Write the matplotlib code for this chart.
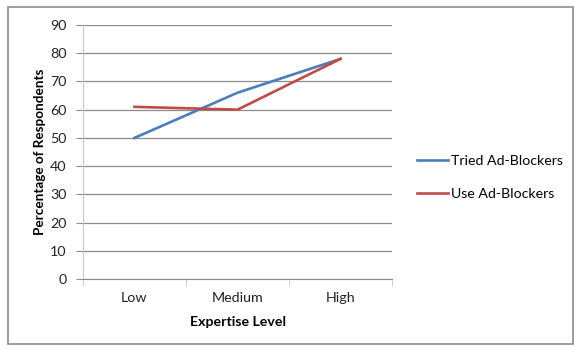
import matplotlib.pyplot as plt
from matplotlib.patches import Rectangle
from matplotlib.ticker import FixedLocator

plt.rcParams['font.family'] = ['Lato', 'DejaVu Sans']

levels = ['Low', 'Medium', 'High']
tried = [50, 66, 78]
use = [61, 60, 78]

fig = plt.figure(figsize=(5.74, 3.5), dpi=100)
# outer chart border, like the Excel chart area
fig.patches.append(Rectangle((8 / 574, 6 / 350), 565 / 574, 337 / 350,
                             transform=fig.transFigure, fill=False,
                             edgecolor='#8c8c8c', linewidth=1.2))

ax = fig.add_axes([83 / 574, 71 / 350, 309 / 574, 254 / 350])
x = list(range(len(levels)))
ax.plot(x, tried, color='#4a7ebb', lw=1.9, label='Tried Ad-Blockers')
ax.plot(x, use, color='#be4b48', lw=1.9, label='Use Ad-Blockers')

ax.set_xlim(-0.5, 2.5)
ax.set_ylim(0, 90)
ax.set_yticks(range(0, 91, 10))
ax.set_xticks(x)
ax.set_xticklabels(levels)
ax.xaxis.set_minor_locator(FixedLocator([-0.5, 0.5, 1.5, 2.5]))
ax.grid(axis='y', color='#8a8a8a', lw=0.9)
ax.set_axisbelow(True)

for s in ['top', 'right']:
    ax.spines[s].set_visible(False)
ax.spines['left'].set_color('#c8c8c8')
ax.spines['bottom'].set_color('#8a8a8a')
ax.tick_params(axis='y', length=5, color='#8a8a8a', labelsize=10.3, labelcolor='#222222', pad=7)
ax.tick_params(axis='x', which='major', length=0, labelsize=10.3, labelcolor='#222222', pad=9)
ax.tick_params(axis='x', which='minor', length=5, color='#c8c8c8', direction='out')

ax.set_xlabel('Expertise Level', fontsize=10.2, fontweight='bold', labelpad=9)
ax.set_ylabel('Percentage of Respondents', fontsize=9.7, fontweight='bold', labelpad=3)

ax.legend(loc='center left', bbox_to_anchor=(1.04, 0.40), frameon=False,
          fontsize=10.2, handlelength=2.2, handletextpad=0.2, labelspacing=1.5)

fig.savefig('out.png', dpi=100)
